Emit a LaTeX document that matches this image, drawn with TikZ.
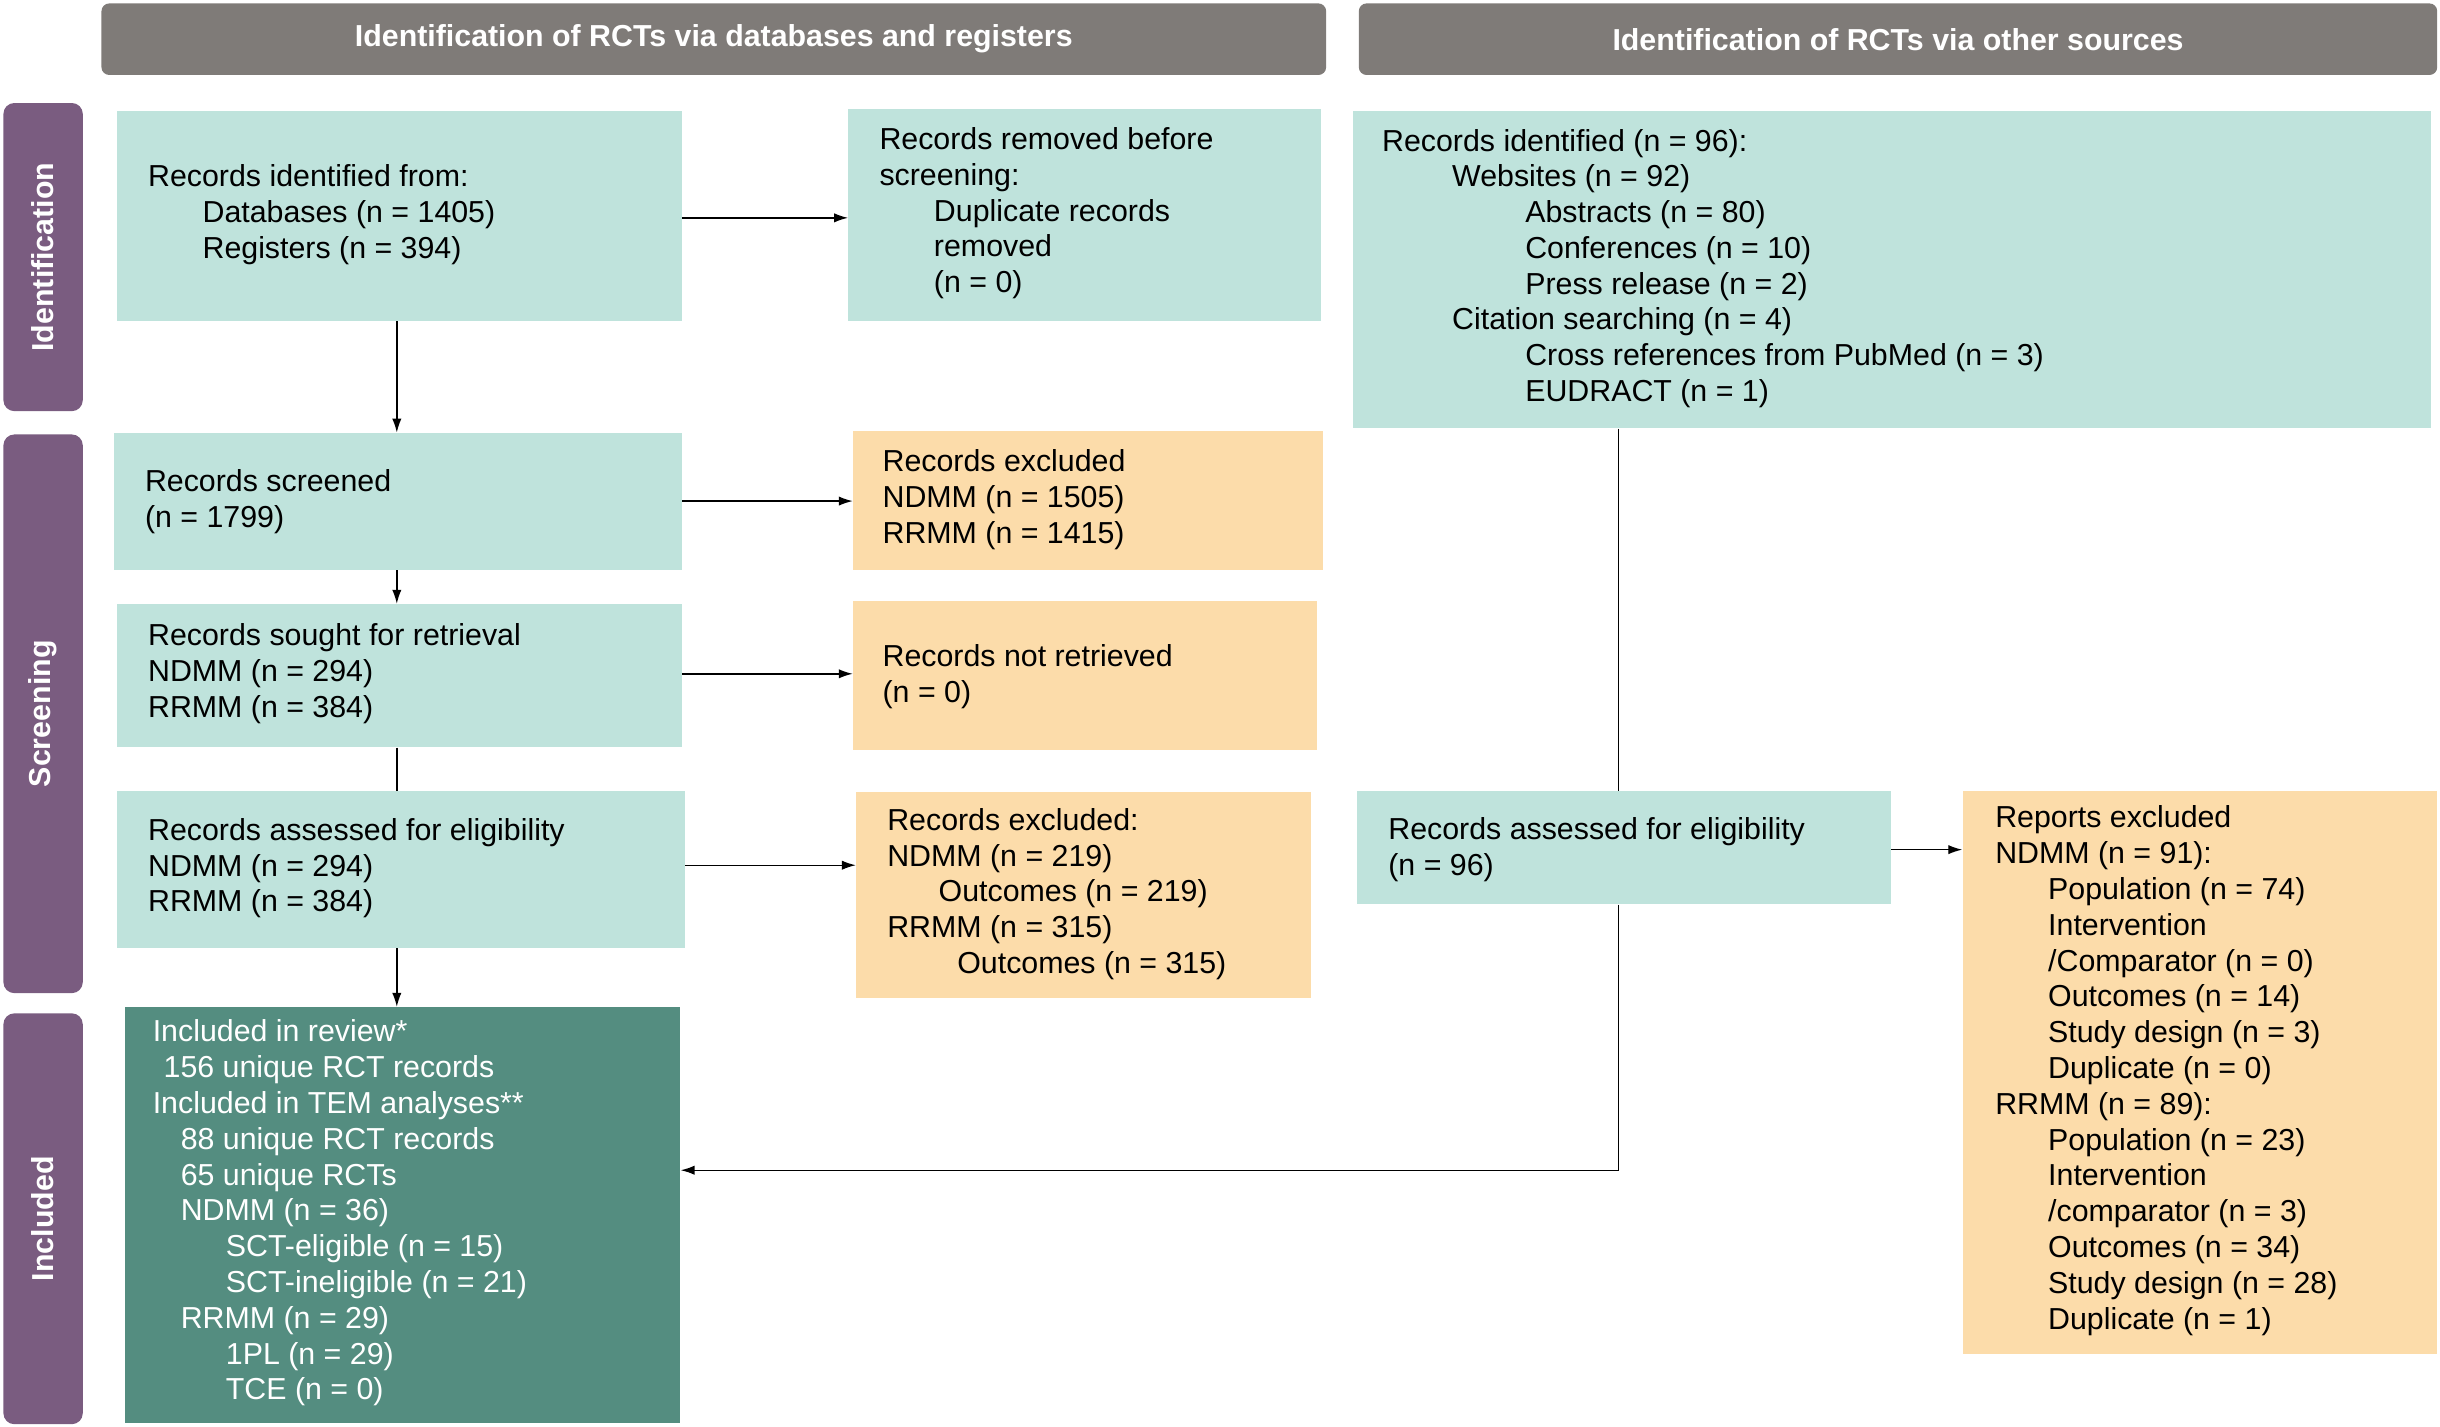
\documentclass[tikz,border=0pt]{standalone}
\usetikzlibrary{arrows.meta}
\usepackage{fontspec}
\setmainfont{Liberation Sans}
\definecolor{hdr}{HTML}{7F7B78}
\definecolor{side}{HTML}{7A5C80}
\definecolor{lt}{HTML}{BFE3DC}
\definecolor{org}{HTML}{FCDCAA}
\definecolor{dk}{HTML}{548D80}
\begin{document}
\begin{tikzpicture}[x=1pt,y=-1pt,
 box/.style={draw=none,anchor=north west,inner sep=0},
 txt/.style={anchor=west,inner sep=0,align=left,font=\fontsize{19.5}{23}\selectfont},
 bar/.style={fill=hdr,rounded corners=5pt,anchor=north west,inner sep=0,text=white,font=\fontsize{19.5}{23}\selectfont\bfseries},
 sbar/.style={fill=side,rounded corners=7pt,anchor=north west,inner sep=0},
 stxt/.style={rotate=90,text=white,font=\fontsize{19.5}{23}\selectfont\bfseries},
 arr/.style={-{Latex[length=9pt,width=6pt]},line width=0.9pt},
 ln/.style={line width=0.9pt}]
\useasboundingbox (0,0) rectangle (1568,917);
\node[bar,minimum width=787,minimum height=46] (h1) at (65,2) {Identification of RCTs via databases and registers};
\node[bar,minimum width=693,minimum height=46] (h2) at (873,2) {Identification of RCTs via other sources};
\node[sbar,minimum width=51,minimum height=198] (s1) at (2,66) {};
\node[stxt] (s1t) at (s1.center) {Identification};
\node[sbar,minimum width=51,minimum height=359] (s2) at (2,279) {};
\node[stxt] (s2t) at (s2.center) {Screening};
\node[sbar,minimum width=51,minimum height=264] (s3) at (2,651) {};
\node[stxt] (s3t) at (s3.center) {Included};
% boxes
\node[box,fill=lt,minimum width=363,minimum height=135] (A) at (75,71) {};
\node[box,fill=lt,minimum width=304,minimum height=136] (B) at (545,70) {};
\node[box,fill=lt,minimum width=693,minimum height=204] (C) at (869,71) {};
\node[box,fill=lt,minimum width=365,minimum height=88] (D) at (73,278) {};
\node[box,fill=org,minimum width=302,minimum height=89] (E) at (548,277) {};
\node[box,fill=lt,minimum width=363,minimum height=92] (F) at (75,388) {};
\node[box,fill=org,minimum width=298,minimum height=96] (G) at (548,386) {};
\node[box,fill=lt,minimum width=365,minimum height=101] (H) at (75,508) {};
\node[box,fill=org,minimum width=292,minimum height=132] (I) at (550,509) {};
\node[box,fill=lt,minimum width=343,minimum height=73] (J) at (872,508) {};
\node[box,fill=org,minimum width=305,minimum height=362] (K) at (1261,508) {};
\node[box,fill=dk,minimum width=357,minimum height=267] (L) at (80,647) {};
% texts
\node[txt] (At) at (95,138) {Records identified from:\\\hspace*{35pt}Databases (n = 1405)\\\hspace*{35pt}Registers (n = 394)};
\node[txt] (Bt) at (565,137) {Records removed before\\screening:\\\hspace*{35pt}Duplicate records\\\hspace*{35pt}removed\\\hspace*{35pt}(n = 0)};
\node[txt] (Ct) at (888,172.5) {Records identified (n = 96):\\\hspace*{45pt}Websites (n = 92)\\\hspace*{92pt}Abstracts (n = 80)\\\hspace*{92pt}Conferences (n = 10)\\\hspace*{92pt}Press release (n = 2)\\\hspace*{45pt}Citation searching (n = 4)\\\hspace*{92pt}Cross references from PubMed (n = 3)\\\hspace*{92pt}EUDRACT (n = 1)};
\node[txt] (Dt) at (93,322.5) {Records screened\\(n = 1799)};
\node[txt] (Et) at (567,321) {Records excluded\\NDMM (n = 1505)\\RRMM (n = 1415)};
\node[txt] (Ft) at (95,433) {Records sought for retrieval\\NDMM (n = 294)\\RRMM (n = 384)};
\node[txt] (Gt) at (567,435) {Records not retrieved\\(n = 0)};
\node[txt] (Ht) at (95,558) {Records assessed for eligibility\\NDMM (n = 294)\\RRMM (n = 384)};
\node[txt] (It) at (570,574.5) {Records excluded:\\NDMM (n = 219)\\\hspace*{33pt}Outcomes (n = 219)\\RRMM (n = 315)\\\hspace*{45pt}Outcomes (n = 315)};
\node[txt] (Jt) at (892,546) {Records assessed for eligibility\\(n = 96)};
\node[txt] (Kt) at (1282,688) {Reports excluded\\NDMM (n = 91):\\\hspace*{34pt}Population (n = 74)\\\hspace*{34pt}Intervention\\\hspace*{34pt}/Comparator (n = 0)\\\hspace*{34pt}Outcomes (n = 14)\\\hspace*{34pt}Study design (n = 3)\\\hspace*{34pt}Duplicate (n = 0)\\RRMM (n = 89):\\\hspace*{34pt}Population (n = 23)\\\hspace*{34pt}Intervention\\\hspace*{34pt}/comparator (n = 3)\\\hspace*{34pt}Outcomes (n = 34)\\\hspace*{34pt}Study design (n = 28)\\\hspace*{34pt}Duplicate (n = 1)};
\node[txt,text=white] (Lt) at (98,779.5) {Included in review*\\\hspace*{7pt}156 unique RCT records\\Included in TEM analyses**\\\hspace*{18pt}88 unique RCT records\\\hspace*{18pt}65 unique RCTs\\\hspace*{18pt}NDMM (n = 36)\\\hspace*{47pt}SCT-eligible (n = 15)\\\hspace*{47pt}SCT-ineligible (n = 21)\\\hspace*{18pt}RRMM (n = 29)\\\hspace*{47pt}1PL (n = 29)\\\hspace*{47pt}TCE (n = 0)};
% connectors
\draw[arr] (A.east |- 0,140) -- (B.west |- 0,140);
\draw[arr] (A.south -| 255,0) -- (D.north -| 255,0);
\draw[arr] (D.east |- 0,322) -- (E.west |- 0,322);
\draw[arr] (D.south -| 255,0) -- (F.north -| 255,0);
\draw[arr] (F.east |- 0,433) -- (G.west |- 0,433);
\draw[ln] (F.south -| 255,0) -- (H.north -| 255,0);
\draw[arr] (H.east |- 0,556) -- (I.west |- 0,556);
\draw[arr] (H.south -| 255,0) -- (L.north -| 255,0);
\draw[ln] (C.south -| 1040,0) -- (J.north -| 1040,0);
\draw[arr] (J.east |- 0,546) -- (K.west |- 0,546);
\draw[arr] (J.south -| 1040,0) -- (1040,752) -- (L.east |- 0,752);
\end{tikzpicture}
\end{document}
